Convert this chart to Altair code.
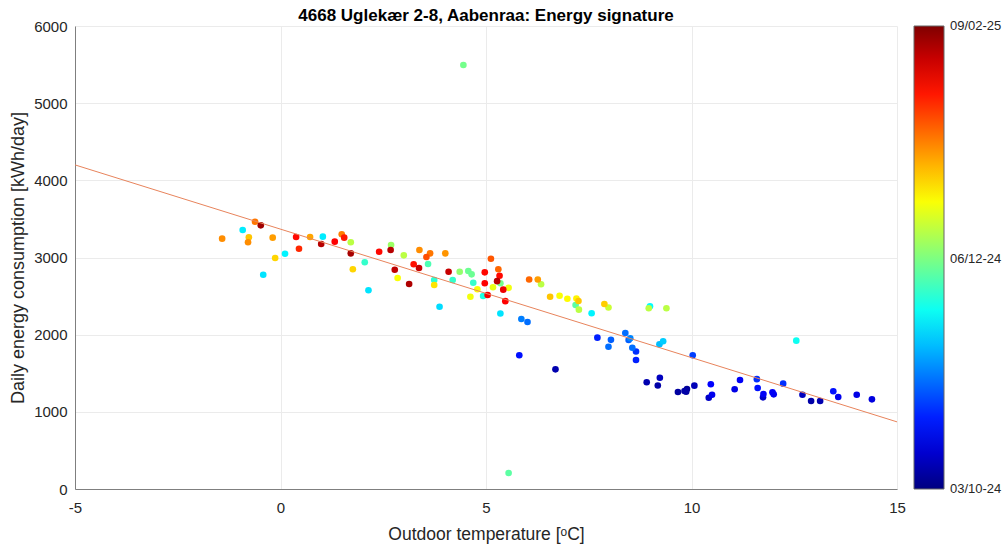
import altair as alt
import pandas as pd

# Outdoor temperature [°C] per day
temps = [
    -1.42, -0.92, -0.77, -0.79, -0.62, -0.48, -0.19, -0.13, -0.42, 0.11,
    0.38, 0.45, 0.72, 1.03, 0.99, 1.32, 1.49, 1.55, 1.71, 1.71,
    1.76, 2.05, 2.14, 2.40, 2.69, 2.68, 2.78, 2.85, 3.00, 3.13,
    3.24, 3.37, 3.38, 3.55, 3.64, 3.59, 3.74, 3.74, 3.87, 4.01,
    4.09, 4.19, 4.36, 4.57, 4.65, 4.69, 4.97, 4.97, 4.79, 4.62,
    4.93, 5.04, 5.12, 5.17, 5.30, 5.33, 5.27, 5.35, 5.42, 5.55,
    5.47, 5.35, 5.86, 6.01, 6.05, 6.26, 6.34, 6.56, 6.79, 6.98,
    7.20, 7.25, 7.18, 7.26, 7.57, 7.88, 7.98, 8.99, 8.96, 9.39,
    5.81, 6.69, 7.71, 8.04, 7.98, 8.39, 8.51, 8.47, 8.56, 8.65,
    8.65, 9.22, 9.31, 10.03, 8.91, 9.23, 9.18, 9.67, 9.83, 9.89,
    9.87, 10.07, 10.47, 10.50, 10.42, 11.05, 11.18, 11.59, 11.61, 11.75,
    11.74, 11.97, 12.00, 12.23, 12.55, 12.70, 12.91, 13.13, 13.45, 13.57,
    14.02, 14.39, 4.45, 5.55,
]

# Daily energy consumption [kWh/day]
energy = [
    3244, 3356, 3262, 3197, 3464, 3417, 3257, 2994, 2777, 3049,
    3266, 3114, 3266, 3270, 3175, 3205, 3301, 3257, 3197, 3054,
    2847, 2938, 2575, 3075, 3162, 3097, 2842, 2734, 3028, 2657,
    2912, 2864, 3097, 3006, 3054, 2916, 2708, 2644, 2362, 3054,
    2816, 2708, 2816, 2825, 2782, 2673, 2808, 2666, 2588, 2492,
    2501, 2514, 2984, 2614, 2847, 2764, 2693, 2666, 2583, 2607,
    2434, 2274, 2203, 2164, 2715, 2715, 2654, 2492, 2505, 2466,
    2469, 2436, 2384, 2324, 2277, 2397, 2352, 2368, 2342, 2343,
    1733, 1551, 1961, 1933, 1843, 2022, 1954, 1931, 1831, 1782,
    1672, 1876, 1915, 1734, 1383, 1442, 1341, 1257, 1270, 1296,
    1261, 1339, 1358, 1222, 1183, 1293, 1413, 1423, 1309, 1231,
    1188, 1253, 1227, 1365, 1922, 1222, 1140, 1140, 1266, 1192,
    1222, 1162, 5495, 207,
]

# Day of measurement, as days after 03/10-24
days = [
    95, 46, 88, 95, 98, 125, 93, 86, 45, 47,
    112, 108, 92, 46, 122, 113, 97, 110, 72, 124,
    86, 55, 45, 112, 68, 122, 121, 80, 72, 123,
    111, 120, 95, 103, 98, 58, 54, 84, 44, 94,
    120, 55, 67, 62, 62, 55, 112, 113, 80, 79,
    52, 114, 102, 78, 100, 112, 122, 63, 115, 79,
    113, 45, 32, 30, 100, 93, 72, 88, 80, 81,
    82, 88, 60, 72, 47, 87, 74, 48, 72, 72,
    18, 6, 20, 28, 30, 30, 33, 28, 30, 22,
    20, 40, 42, 24, 6, 8, 5, 4, 5, 3,
    4, 7, 16, 14, 9, 13, 15, 22, 18, 15,
    9, 15, 14, 22, 50, 8, 5, 6, 18, 14,
    13, 12, 63, 60,
]

# Fitted energy-signature line (end points)
line_x = [-5, 15]
line_y = [4200, 870]

x_ticks = [-5, 0, 5, 10, 15]
y_ticks = [0, 1000, 2000, 3000, 4000, 5000, 6000]
legend_days = [0, 64, 129]  # 03/10-24, 06/12-24, 09/02-25
last_day = 129

df = pd.DataFrame({"temp": temps, "energy": energy, "day": days})
line_df = pd.DataFrame({"temp": line_x, "energy": line_y})

# keep end labels a hair inside the bar so Vega centres them on the bar ends
legend_vals = [min(max(d, 0.01), last_day - 0.01) for d in legend_days]

FONT = "Liberation Sans"
jet_colors = ["#000080", "#0000FF", "#00FFFF", "#FFFF00", "#FF0000", "#800000"]
jet_domain = [0, last_day / 8, 3 * last_day / 8, 5 * last_day / 8, 7 * last_day / 8, last_day]

x_enc = alt.X(
    "temp:Q",
    scale=alt.Scale(domain=[-5, 15], nice=False, zero=False),
    axis=alt.Axis(
        values=x_ticks,
        title="Outdoor temperature [ᵒC]",
        labelExpr="replace(datum.label, '\u2212', '-')",
        labelPadding=11,
        labelFlush=False,
        titlePadding=10,
        titleFontSize=17.5,
    ),
)
y_enc = alt.Y(
    "energy:Q",
    scale=alt.Scale(domain=[0, 6000], nice=False),
    axis=alt.Axis(
        values=y_ticks,
        format="d",
        title="Daily energy consumption [kWh/day]",
        labelPadding=8,
        labelFlush=False,
        titlePadding=6,
        titleFontSize=18,
    ),
)

points = alt.Chart(df).mark_circle(size=44, opacity=1).encode(
    x=x_enc,
    y=y_enc,
    order=alt.Order("day:Q"),
    color=alt.Color(
        "day:Q",
        scale=alt.Scale(domain=jet_domain, range=jet_colors, interpolate="rgb"),
        legend=alt.Legend(
            orient="none",
            legendX=839,
            legendY=0,
            direction="vertical",
            gradientLength=463,
            gradientThickness=30,
            values=legend_vals,
            labelExpr="timeFormat(datetime(2024, 9, 3 + round(datum.value)), '%d/%m-%y')",
            title=None,
            labelFontSize=13,
            labelFont=FONT,
            labelColor="#262626",
            labelOffset=6,
            labelOverlap=False,
            gradientStrokeColor="#666666",
            gradientStrokeWidth=1,
        ),
    ),
)

line = alt.Chart(line_df).mark_line(color="#E8845C", strokeWidth=1).encode(
    x="temp:Q", y="energy:Q"
)

chart = (
    alt.layer(points, line)
    .properties(
        width=822,
        height=463,
        autosize=alt.AutoSizeParams(type="none"),
        padding={"left": 75, "top": 26, "right": 106, "bottom": 59},
        title=alt.TitleParams(
            "4668 Uglekær 2-8, Aabenraa: Energy signature",
            font=FONT,
            fontSize=17,
            fontWeight="bold",
            color="#000000",
            anchor="middle",
            offset=6,
            dy=12,
        ),
        background="white",
    )
    .configure_view(stroke=None)
    .configure_axis(
        labelFont=FONT,
        labelFontSize=15,
        labelColor="#262626",
        titleFont=FONT,
        titleFontWeight="normal",
        titleColor="#262626",
        grid=True,
        gridColor="#EBEBEB",
        gridWidth=1,
        domainColor="#7F7F7F",
        domainWidth=1,
        ticks=False,
    )
)

chart.save("out.html", embed_options={"renderer": "svg", "actions": False})
